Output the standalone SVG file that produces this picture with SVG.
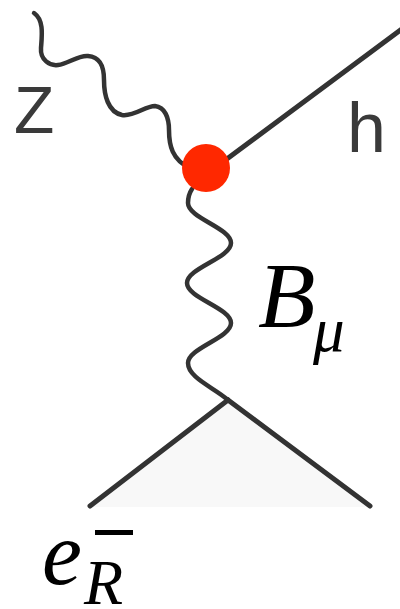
<svg xmlns="http://www.w3.org/2000/svg" width="400" height="609" viewBox="0 0 400 609">
<style>
.ln{fill:none;stroke:#333;stroke-width:5;stroke-linecap:round;stroke-linejoin:round}
.wv{fill:none;stroke:#333;stroke-width:4.5;stroke-linecap:round}
.sans{font-family:"Liberation Sans",Arial,sans-serif;fill:#3a3a3a}
.math{font-family:"Liberation Serif","Times New Roman",serif;font-style:italic;fill:#000}
</style>
<g id="connectors">
<polygon points="228,400 90,507 370,507" fill="#f8f8f8"/>
<path id="z-boson" class="wv" d="M34,13 C44,20 42,35 41,48 C40,60 50,66 58,65 C68,64 78,55 88,56 C100,57 104,66 104,80 C104,95 108,112 122,115 C134,117 145,106 155,106 C165,107 169,118 169,130 C169,145 172,160 190,168"/>
<line id="higgs" class="ln" x1="212" y1="170" x2="402" y2="29"/>
<path id="b-boson" class="wv" d="M192,189 C188,195 188,199 188,203 C188,218 231,228 231,243 C231,258 187,268 187,283 C187,298 231,308 231,323 C231,338 188,348 188,363 C188,378 215,388 228,400"/>
<line id="fermion-left" class="ln" x1="228" y1="400" x2="90" y2="506"/>
<line id="fermion-right" class="ln" x1="228" y1="400" x2="370" y2="506"/>
</g>
<g id="vertex">
<circle cx="206" cy="168" r="24" fill="#ff2800"/>
</g>
<g id="label-z"><text class="sans" x="14" y="133" font-size="66">Z</text></g>
<g id="label-h"><text class="sans" x="347" y="152" font-size="70">h</text></g>
<g id="label-b"><text class="math" x="258" y="327" font-size="94">B</text><text class="math" x="313" y="351" font-size="63">μ</text></g>
<g id="label-e"><text class="math" x="42" y="584" font-size="90">e</text><text class="math" x="84" y="604" font-size="64">R</text><rect x="95" y="530" width="38" height="5" fill="#000"/></g>
</svg>
